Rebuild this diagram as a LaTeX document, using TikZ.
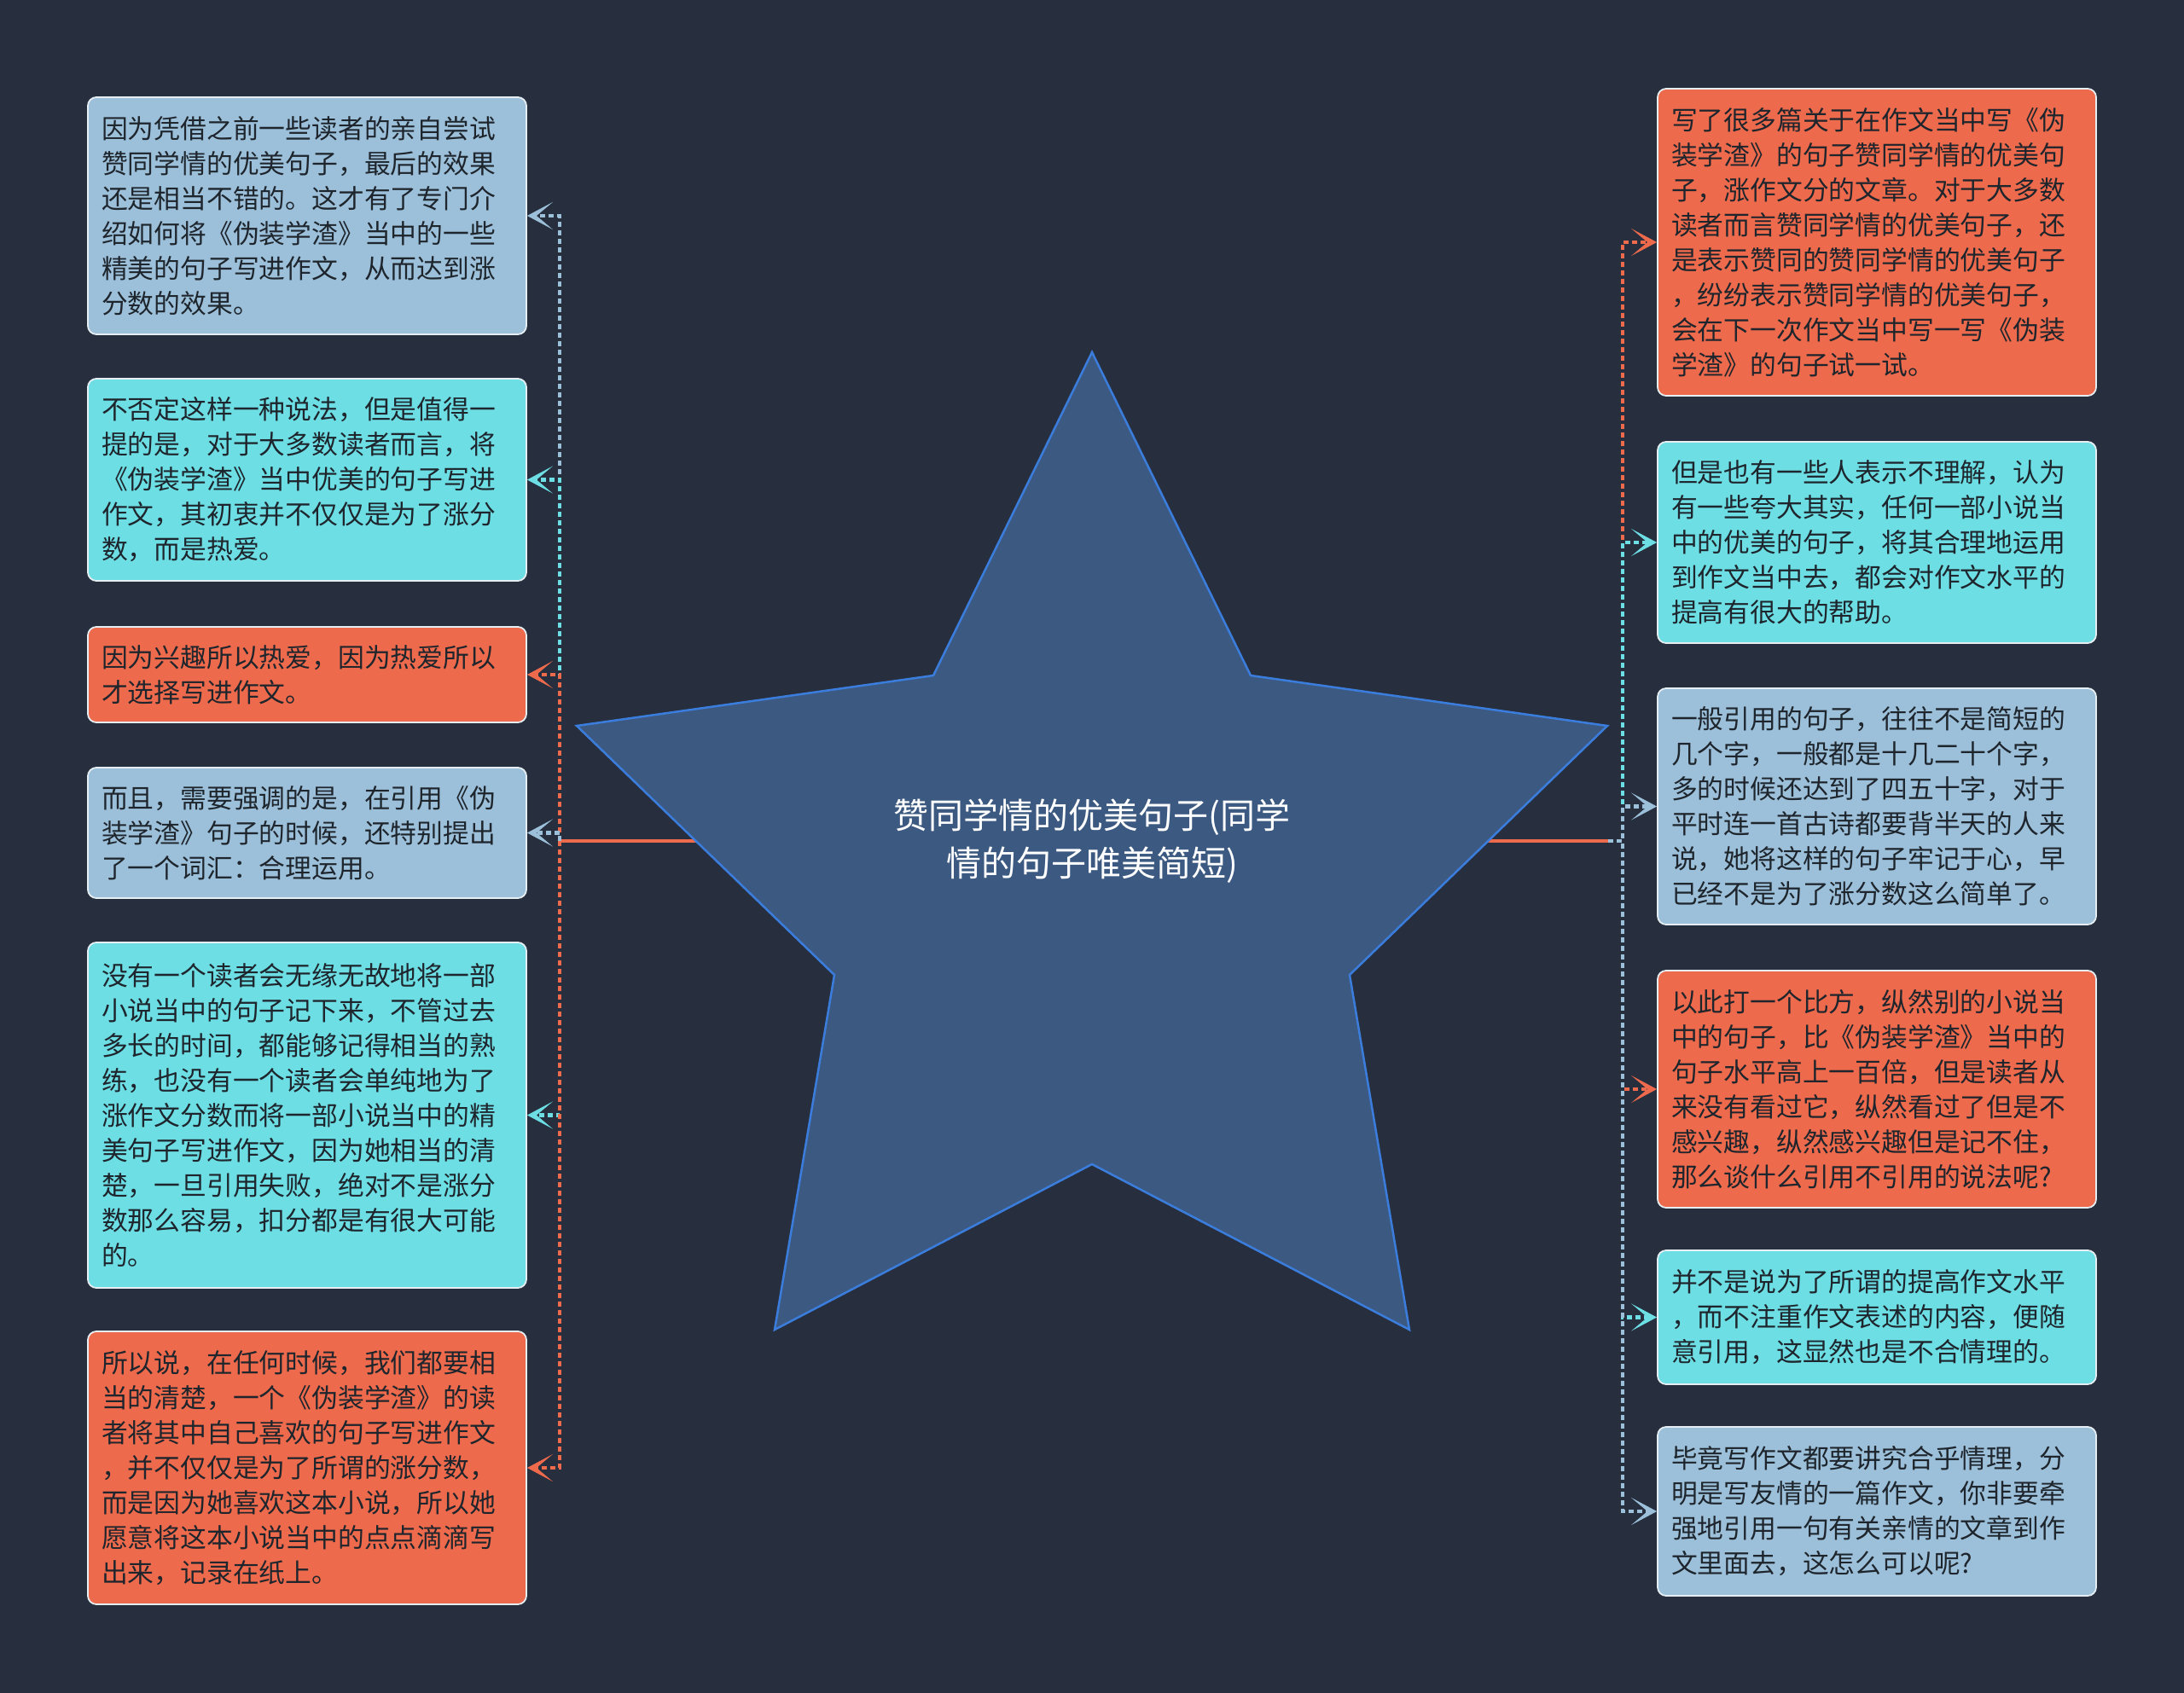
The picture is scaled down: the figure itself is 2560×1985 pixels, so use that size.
\documentclass[tikz,border=0pt]{standalone}
\usepackage{fontspec}
\setmainfont{Noto Sans CJK SC}
\usetikzlibrary{arrows.meta}
\definecolor{bg}{HTML}{272F3E}
\definecolor{starfill}{HTML}{3C5A81}
\definecolor{staredge}{HTML}{3B7DDD}
\definecolor{lbc}{HTML}{9CC0DA}
\definecolor{cyc}{HTML}{6CDEE4}
\definecolor{orc}{HTML}{EE6A4C}
\definecolor{boxedge}{HTML}{E6EEF3}
\definecolor{txt}{HTML}{1E252C}
\tikzset{
  textbox/.style={rounded corners=10pt, draw=boxedge, line width=1.8pt,
    text width=482pt, inner xsep=16pt, inner ysep=0pt, align=left,
    font=\fontsize{30.8pt}{41pt}\selectfont, text=txt},
  branch/.style={line width=4.5pt, dash pattern=on 6pt off 4pt,
    -{Stealth[length=30pt,width=32pt,inset=19pt,line width=1pt]}},
  stem/.style={line width=4pt, orc},
  titlenode/.style={align=center, text=white,
    font=\fontsize{41pt}{56pt}\selectfont}
}
\begin{document}
\begin{tikzpicture}[x=1pt,y=-1pt]
\useasboundingbox (0,0) rectangle (2560,1985);
\fill[bg] (0,0) rectangle (2560,1985);
% boxes left
\node[textbox, fill=lbc, minimum height=278pt] (L1) at (360,253) {因为凭借之前一些读者的亲自尝试\\赞同学情的优美句子，最后的效果\\还是相当不错的。这才有了专门介\\绍如何将《伪装学渣》当中的一些\\精美的句子写进作文，从而达到涨\\分数的效果。};
\node[textbox, fill=cyc, minimum height=237pt] (L2) at (360,562.5) {不否定这样一种说法，但是值得一\\提的是，对于大多数读者而言，将\\《伪装学渣》当中优美的句子写进\\作文，其初衷并不仅仅是为了涨分\\数，而是热爱。};
\node[textbox, fill=orc, minimum height=112pt] (L3) at (360,791) {因为兴趣所以热爱，因为热爱所以\\才选择写进作文。};
\node[textbox, fill=lbc, minimum height=153pt] (L4) at (360,976.5) {而且，需要强调的是，在引用《伪\\装学渣》句子的时候，还特别提出\\了一个词汇：合理运用。};
\node[textbox, fill=cyc, minimum height=405pt] (L5) at (360,1307.5) {没有一个读者会无缘无故地将一部\\小说当中的句子记下来，不管过去\\多长的时间，都能够记得相当的熟\\练，也没有一个读者会单纯地为了\\涨作文分数而将一部小说当中的精\\美句子写进作文，因为她相当的清\\楚，一旦引用失败，绝对不是涨分\\数那么容易，扣分都是有很大可能\\的。};
\node[textbox, fill=orc, minimum height=320pt] (L6) at (360,1721) {所以说，在任何时候，我们都要相\\当的清楚，一个《伪装学渣》的读\\者将其中自己喜欢的句子写进作文\\，并不仅仅是为了所谓的涨分数，\\而是因为她喜欢这本小说，所以她\\愿意将这本小说当中的点点滴滴写\\出来，记录在纸上。};
% boxes right
\node[textbox, fill=orc, minimum height=360pt] (R1) at (2200,284) {写了很多篇关于在作文当中写《伪\\装学渣》的句子赞同学情的优美句\\子，涨作文分的文章。对于大多数\\读者而言赞同学情的优美句子，还\\是表示赞同的赞同学情的优美句子\\，纷纷表示赞同学情的优美句子，\\会在下一次作文当中写一写《伪装\\学渣》的句子试一试。};
\node[textbox, fill=cyc, minimum height=236pt] (R2) at (2200,636) {但是也有一些人表示不理解，认为\\有一些夸大其实，任何一部小说当\\中的优美的句子，将其合理地运用\\到作文当中去，都会对作文水平的\\提高有很大的帮助。};
\node[textbox, fill=lbc, minimum height=277pt] (R3) at (2200,945.5) {一般引用的句子，往往不是简短的\\几个字，一般都是十几二十个字，\\多的时候还达到了四五十字，对于\\平时连一首古诗都要背半天的人来\\说，她将这样的句子牢记于心，早\\已经不是为了涨分数这么简单了。};
\node[textbox, fill=orc, minimum height=278pt] (R4) at (2200,1277) {以此打一个比方，纵然别的小说当\\中的句子，比《伪装学渣》当中的\\句子水平高上一百倍，但是读者从\\来没有看过它，纵然看过了但是不\\感兴趣，纵然感兴趣但是记不住，\\那么谈什么引用不引用的说法呢?};
\node[textbox, fill=cyc, minimum height=157pt] (R5) at (2200,1544.5) {并不是说为了所谓的提高作文水平\\，而不注重作文表述的内容，便随\\意引用，这显然也是不合情理的。};
\node[textbox, fill=lbc, minimum height=198pt] (R6) at (2200,1772) {毕竟写作文都要讲究合乎情理，分\\明是写友情的一篇作文，你非要牵\\强地引用一句有关亲情的文章到作\\文里面去，这怎么可以呢?};
% junctions
\coordinate (c0) at (1280,986);
\coordinate (jL) at (656,986);
\coordinate (cR) at (1885,986);
\coordinate (jR) at (1902,986);
% stems
\draw[stem] (c0) -- (jL);
\draw[stem] (c0) -- (cR);
% left branches
\draw[branch, lbc] (jL) |- (L1.east);
\draw[branch, cyc] (jL) |- (L2.east);
\draw[branch, orc] (jL) |- (L3.east);
\draw[branch, lbc] (jL) |- (L4.east);
\draw[branch, cyc] (jL) |- (L5.east);
\draw[branch, orc] (jL) |- (L6.east);
% right branches
\draw[branch, orc] (cR) -- (jR) |- (R1.west);
\draw[branch, cyc] (cR) -- (jR) |- (R2.west);
\draw[branch, lbc] (cR) -- (jR) |- (R3.west);
\draw[branch, orc] (cR) -- (jR) |- (R4.west);
\draw[branch, cyc] (cR) -- (jR) |- (R5.west);
\draw[branch, lbc] (cR) -- (jR) |- (R6.west);
% star
\filldraw[fill=starfill, draw=staredge, line width=2.5pt, line join=miter]
  (1280,413) -- (1466,792) -- (1884,851) -- (1582,1143) -- (1652,1559)
  -- (1280,1365) -- (908,1559) -- (978,1143) -- (676,851) -- (1094,792) -- cycle;
\node[titlenode] (title) at (c0) {赞同学情的优美句子(同学\\情的句子唯美简短)};
\end{tikzpicture}
\end{document}
